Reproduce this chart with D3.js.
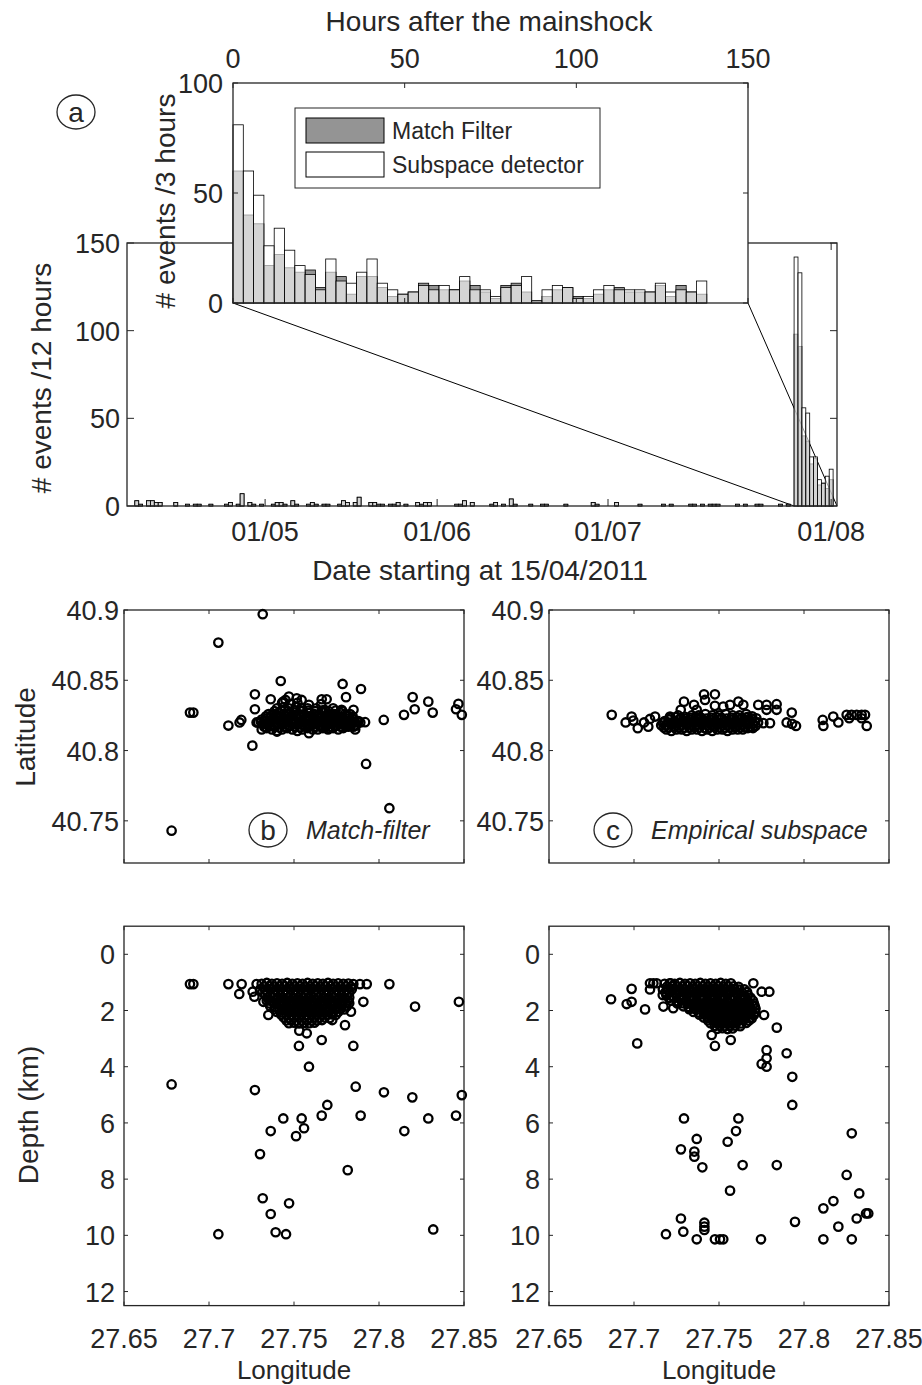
<!DOCTYPE html>
<html>
<head>
<meta charset="utf-8">
<script src="https://cdn.jsdelivr.net/npm/d3@7"></script>
<style>
  body { margin: 0; background: #fff; }
  svg text { font-family: "Liberation Sans", Arial, Helvetica, sans-serif; fill: #262626; }
</style>
</head>
<body>
<svg id="fig" width="922" height="1385"></svg>
<script>
// ---------------- data ----------------
// (a) whole period, 12-hour bins (index 0..181)
const mainSub = [
  0,0,3,1,0,3,3,2,2,0, 0,0,2,0,0,1,0,1,1,0, 0,1,0,0,0,1,2,0,1,7, 0,2,1,0,1,0,0,1,2,2,
  1,0,3,1,0,0,1,2,1,0, 1,1,0,0,1,3,2,0,2,5, 0,0,2,2,1,1,0,1,1,2, 0,1,0,0,2,1,2,2,0,0,
  0,0,0,0,1,1,3,0,2,0, 0,0,0,1,2,0,1,0,4,1, 0,0,0,1,0,0,1,1,0,0, 0,0,1,0,0,0,0,0,0,2,
  1,0,0,0,0,2,0,0,0,0, 0,1,0,0,0,0,0,1,0,1, 0,0,0,0,1,1,0,1,0,1, 1,1,0,0,0,0,1,0,1,0,
  0,1,1,0,0,0,0,1,0,1, 0,142,133,56,53,28,28,15,13,17, 21,0
];
const mainMatch = [
  0,0,3,1,0,3,3,2,2,0, 0,0,2,0,0,1,0,1,1,0, 0,1,0,0,0,1,2,0,1,7, 0,2,1,0,1,0,0,1,2,2,
  1,0,3,1,0,0,1,2,1,0, 1,1,0,0,1,3,2,0,2,5, 0,0,2,2,1,1,0,1,1,2, 0,1,0,0,2,1,2,2,0,0,
  0,0,0,0,1,1,3,0,2,0, 0,0,0,1,2,0,1,0,4,1, 0,0,0,1,0,0,1,1,0,0, 0,0,1,0,0,0,0,0,0,2,
  1,0,0,0,0,2,0,0,0,0, 0,1,0,0,0,0,0,1,0,1, 0,0,0,0,1,1,0,1,0,1, 1,1,0,0,0,0,1,0,1,0,
  0,1,1,0,0,0,0,1,0,1, 0,98,91,40,37,24,27,12,13,10, 15,0
];
const mainBinCount = 182;
const mainshockBin = 171;
const dateTickBins = [35.4, 79.5, 123.3, 180.5];
const dateTickLabels = ["01/05", "01/06", "01/07", "01/08"];
const countTicksMain = [0, 50, 100, 150];

// (a) inset, 3-hour bins after the mainshock
const insetSub = [81,60,49,26,34,24,17,13,6,20, 10,9,14,20,9,6,4,5,8,6, 8,6,12,6,6,3,7,8,12,1,
  6,8,7,2,3,6,8,6,6,6, 5,9,5,6,5,10];
const insetMatch = [60,40,36,17,22,16,14,15,7,14, 12,4,12,12,7,3,4,5,9,8, 6,6,10,8,5,2,8,9,5,1,
  3,6,7,3,2,4,6,7,5,5, 5,8,3,8,5,4];
const hourTicks = [0, 50, 100, 150];
const countTicksInset = [0, 50, 100];
const legendLabels = ["Match Filter", "Subspace detector"];

// (b)(c) axes
const lonTicks = [27.65, 27.7, 27.75, 27.8, 27.85];
const lonTickLabels = ["27.65", "27.7", "27.75", "27.8", "27.85"];
const latTicks = [40.75, 40.8, 40.85, 40.9];
const depthTicks = [0, 2, 4, 6, 8, 10, 12];

// (b) match-filter locations [lon, lat]
const mfMap = [
  [27.731,40.815],[27.734,40.816],[27.737,40.815],[27.740,40.814],[27.743,40.815],[27.746,40.816],[27.749,40.815],
  [27.752,40.814],[27.755,40.815],[27.758,40.816],[27.761,40.815],[27.764,40.815],[27.767,40.816],[27.770,40.815],
  [27.773,40.816],[27.776,40.815],[27.779,40.816],[27.782,40.817],[27.785,40.817],
  [27.7325,40.817],[27.7355,40.8175],[27.7385,40.817],[27.7415,40.8165],[27.7445,40.817],[27.7475,40.8175],[27.7505,40.817],
  [27.7535,40.8165],[27.7565,40.817],[27.7595,40.8175],[27.7625,40.817],[27.7655,40.817],[27.7685,40.8175],[27.7715,40.817],
  [27.7745,40.8175],[27.7775,40.817],[27.7805,40.8175],[27.7835,40.818],[27.7865,40.818],
  [27.729,40.820],[27.732,40.819],[27.735,40.819],[27.738,40.818],[27.741,40.819],[27.744,40.819],[27.747,40.818],
  [27.750,40.819],[27.753,40.819],[27.756,40.818],[27.759,40.819],[27.762,40.819],[27.765,40.818],[27.768,40.819],
  [27.771,40.819],[27.774,40.818],[27.777,40.819],[27.780,40.819],[27.783,40.820],[27.786,40.820],[27.789,40.820],
  [27.7305,40.8205],[27.7335,40.821],[27.7365,40.8205],[27.7395,40.820],[27.7425,40.8205],[27.7455,40.821],[27.7485,40.8205],
  [27.7515,40.820],[27.7545,40.8205],[27.7575,40.821],[27.7605,40.8205],[27.7635,40.820],[27.7665,40.8205],[27.7695,40.821],
  [27.7725,40.8205],[27.7755,40.820],[27.7785,40.8205],[27.7815,40.821],[27.7845,40.8205],[27.7875,40.8205],
  [27.731,40.822],[27.734,40.823],[27.737,40.822],[27.740,40.823],[27.743,40.822],[27.746,40.823],[27.749,40.822],
  [27.752,40.823],[27.755,40.822],[27.758,40.823],[27.761,40.822],[27.764,40.823],[27.767,40.822],[27.770,40.823],
  [27.773,40.822],[27.776,40.823],[27.779,40.822],[27.782,40.823],[27.785,40.822],[27.788,40.821],
  [27.7335,40.8243],[27.7365,40.8248],[27.7395,40.8243],[27.7425,40.8238],[27.7455,40.8243],[27.7485,40.8248],[27.7515,40.8243],
  [27.7545,40.8238],[27.7575,40.8243],[27.7605,40.8248],[27.7635,40.8243],[27.7665,40.8238],[27.7695,40.8243],[27.7725,40.8248],
  [27.7755,40.8243],[27.7785,40.8238],[27.7815,40.8243],[27.7845,40.8243],
  [27.735,40.826],[27.738,40.826],[27.741,40.827],[27.744,40.826],[27.747,40.826],[27.750,40.827],[27.753,40.826],
  [27.756,40.826],[27.759,40.827],[27.762,40.826],[27.765,40.826],[27.768,40.827],[27.771,40.826],[27.774,40.826],
  [27.777,40.827],[27.780,40.826],[27.783,40.826],
  [27.7385,40.828],[27.7425,40.8285],[27.7465,40.828],[27.7505,40.8285],[27.7545,40.828],[27.7585,40.8285],[27.7625,40.828],
  [27.7665,40.8285],[27.7705,40.828],[27.7745,40.8285],[27.7785,40.828],
  [27.740,40.830],[27.744,40.831],[27.747,40.830],[27.751,40.831],[27.754,40.830],[27.758,40.830],[27.763,40.830],
  [27.768,40.829],[27.773,40.830],[27.778,40.829],
  [27.743,40.834],[27.748,40.833],[27.752,40.834],[27.766,40.833],
  [27.7316,40.897],[27.7055,40.8768],[27.6888,40.827],[27.6908,40.827],[27.678,40.743],[27.7114,40.8178],
  [27.718,40.820],[27.719,40.8218],[27.7255,40.8035],[27.727,40.840],[27.727,40.8294],[27.7363,40.8365],
  [27.7422,40.8495],[27.745,40.836],[27.747,40.8384],[27.7516,40.8372],[27.7545,40.836],[27.7437,40.8348],
  [27.7588,40.8325],[27.7588,40.8123],[27.7663,40.8365],[27.7692,40.8365],[27.7786,40.8474],[27.7806,40.838],
  [27.7894,40.8438],[27.728,40.820],[27.7918,40.8202],[27.7924,40.7905],[27.8028,40.8218],[27.8061,40.759],
  [27.8147,40.8254],[27.8198,40.838],[27.821,40.8294],[27.829,40.8348],[27.8316,40.827],[27.8453,40.8294],
  [27.8467,40.8332],[27.8487,40.8254],[27.7859,40.8175],[27.786,40.815],[27.785,40.829],[27.7706,40.8159],
  [27.740,40.8135]
];
// (c) empirical subspace locations [lon, lat]
const esMap = [
  [27.719,40.815],[27.722,40.814],[27.725,40.815],[27.728,40.815],[27.731,40.814],[27.734,40.815],[27.737,40.815],
  [27.740,40.814],[27.743,40.815],[27.746,40.814],[27.749,40.815],[27.752,40.815],[27.755,40.814],[27.758,40.815],
  [27.761,40.815],[27.764,40.815],[27.767,40.816],[27.770,40.816],
  [27.7175,40.8165],[27.7205,40.8165],[27.7235,40.817],[27.7265,40.8165],[27.7295,40.816],[27.7325,40.8165],[27.7355,40.817],
  [27.7385,40.8165],[27.7415,40.816],[27.7445,40.8165],[27.7475,40.817],[27.7505,40.8165],[27.7535,40.816],[27.7565,40.8165],
  [27.7595,40.817],[27.7625,40.8165],[27.7655,40.8165],[27.7685,40.817],[27.7715,40.8175],
  [27.716,40.818],[27.719,40.818],[27.722,40.819],[27.725,40.818],[27.728,40.818],[27.731,40.819],[27.734,40.818],
  [27.737,40.818],[27.740,40.819],[27.743,40.818],[27.746,40.818],[27.749,40.819],[27.752,40.818],[27.755,40.818],
  [27.758,40.819],[27.761,40.818],[27.764,40.818],[27.767,40.819],[27.770,40.819],[27.773,40.820],
  [27.7170,40.8197],[27.7200,40.820],[27.7230,40.8195],[27.7260,40.8197],[27.7290,40.820],[27.7320,40.8195],[27.7350,40.8197],
  [27.7380,40.820],[27.7410,40.8195],[27.7440,40.8197],[27.7470,40.820],[27.7500,40.8195],[27.7530,40.8197],[27.7560,40.820],
  [27.7590,40.8195],[27.7620,40.8197],[27.7650,40.820],[27.7680,40.8195],[27.7710,40.8205],
  [27.718,40.821],[27.721,40.822],[27.724,40.821],[27.727,40.822],[27.730,40.821],[27.733,40.822],[27.736,40.821],
  [27.739,40.822],[27.742,40.821],[27.745,40.822],[27.748,40.821],[27.751,40.822],[27.754,40.821],[27.757,40.822],
  [27.760,40.821],[27.763,40.822],[27.766,40.822],[27.769,40.823],[27.772,40.823],
  [27.7215,40.8233],[27.7245,40.8238],[27.7275,40.8233],[27.7305,40.8228],[27.7335,40.8233],[27.7365,40.8238],[27.7395,40.8233],
  [27.7425,40.8228],[27.7455,40.8233],[27.7485,40.8238],[27.7515,40.8233],[27.7545,40.8228],[27.7575,40.8233],[27.7605,40.8238],
  [27.7635,40.8233],[27.7665,40.8238],[27.7695,40.8243],
  [27.726,40.825],[27.730,40.824],[27.734,40.825],[27.738,40.825],[27.742,40.826],[27.746,40.825],[27.750,40.825],
  [27.754,40.826],[27.758,40.825],[27.762,40.825],[27.766,40.826],
  [27.6869,40.8254],[27.6951,40.820],[27.6986,40.8242],[27.6996,40.8213],[27.7022,40.8159],[27.7059,40.820],
  [27.7094,40.8225],[27.7124,40.8242],[27.7084,40.817],[27.7212,40.8242],[27.7275,40.829],[27.7294,40.8348],
  [27.7353,40.8325],[27.7369,40.829],[27.7412,40.840],[27.7476,40.840],[27.7418,40.836],[27.7476,40.8318],
  [27.7525,40.8313],[27.7565,40.8325],[27.7614,40.8348],[27.7643,40.8325],[27.7731,40.8325],[27.778,40.8325],
  [27.7839,40.833],[27.778,40.829],[27.7839,40.829],[27.7761,40.8195],[27.780,40.8195],[27.7898,40.820],
  [27.7928,40.827],[27.7953,40.8175],[27.793,40.819],[27.811,40.8218],[27.8114,40.8175],[27.8172,40.8242],
  [27.8202,40.820],[27.8251,40.8254],[27.828,40.8254],[27.831,40.8254],[27.8339,40.8254],[27.8359,40.8254],
  [27.8266,40.823],[27.8339,40.823],[27.8369,40.8175]
];
// (b) match-filter depth section [lon, depth km]
const mfDepth = [
  [27.731,1.05],[27.734,1.02],[27.737,1.05],[27.740,1.03],[27.743,1.05],[27.746,1.02],[27.749,1.05],[27.752,1.03],
  [27.755,1.05],[27.758,1.02],[27.761,1.05],[27.764,1.03],[27.767,1.05],[27.770,1.02],[27.773,1.05],[27.776,1.03],
  [27.779,1.05],[27.782,1.04],
  [27.7325,1.15],[27.7355,1.14],[27.7385,1.16],[27.7415,1.15],[27.7445,1.14],[27.7475,1.16],[27.7505,1.15],[27.7535,1.14],
  [27.7565,1.16],[27.7595,1.15],[27.7625,1.14],[27.7655,1.16],[27.7685,1.15],[27.7715,1.14],[27.7745,1.16],[27.7775,1.15],
  [27.7805,1.14],[27.7835,1.16],
  [27.730,1.25],[27.733,1.27],[27.736,1.24],[27.739,1.26],[27.742,1.25],[27.745,1.27],[27.748,1.24],[27.751,1.26],
  [27.754,1.25],[27.757,1.27],[27.760,1.24],[27.763,1.26],[27.766,1.25],[27.769,1.27],[27.772,1.24],[27.775,1.26],
  [27.778,1.25],[27.781,1.27],[27.784,1.24],
  [27.7315,1.35],[27.7345,1.34],[27.7375,1.36],[27.7405,1.35],[27.7435,1.34],[27.7465,1.36],[27.7495,1.35],[27.7525,1.34],
  [27.7555,1.36],[27.7585,1.35],[27.7615,1.34],[27.7645,1.36],[27.7675,1.35],[27.7705,1.34],[27.7735,1.36],[27.7765,1.35],
  [27.7795,1.34],[27.7825,1.36],
  [27.733,1.45],[27.736,1.47],[27.739,1.44],[27.742,1.46],[27.745,1.45],[27.748,1.47],[27.751,1.44],[27.754,1.46],
  [27.757,1.45],[27.760,1.47],[27.763,1.44],[27.766,1.46],[27.769,1.45],[27.772,1.47],[27.775,1.44],[27.778,1.46],
  [27.781,1.45],
  [27.7345,1.55],[27.7375,1.54],[27.7405,1.56],[27.7435,1.55],[27.7465,1.54],[27.7495,1.56],[27.7525,1.55],[27.7555,1.54],
  [27.7585,1.56],[27.7615,1.55],[27.7645,1.54],[27.7675,1.56],[27.7705,1.55],[27.7735,1.54],[27.7765,1.56],[27.7795,1.55],
  [27.7825,1.54],
  [27.734,1.65],[27.737,1.67],[27.740,1.64],[27.743,1.66],[27.746,1.65],[27.749,1.67],[27.752,1.64],[27.755,1.66],
  [27.758,1.65],[27.761,1.67],[27.764,1.64],[27.767,1.66],[27.770,1.65],[27.773,1.67],[27.776,1.64],[27.779,1.66],
  [27.782,1.65],
  [27.7355,1.75],[27.7385,1.74],[27.7415,1.76],[27.7445,1.75],[27.7475,1.74],[27.7505,1.76],[27.7535,1.75],[27.7565,1.74],
  [27.7595,1.76],[27.7625,1.75],[27.7655,1.74],[27.7685,1.76],[27.7715,1.75],[27.7745,1.74],[27.7775,1.76],[27.7805,1.75],
  [27.7825,1.74],
  [27.736,1.85],[27.739,1.87],[27.742,1.84],[27.745,1.86],[27.748,1.85],[27.751,1.87],[27.754,1.84],[27.757,1.86],
  [27.760,1.85],[27.763,1.87],[27.766,1.84],[27.769,1.86],[27.772,1.85],[27.775,1.87],[27.778,1.84],[27.781,1.86],
  [27.7385,1.95],[27.7415,1.94],[27.7445,1.96],[27.7475,1.95],[27.7505,1.94],[27.7535,1.96],[27.7565,1.95],[27.7595,1.94],
  [27.7625,1.96],[27.7655,1.95],[27.7685,1.94],[27.7715,1.96],[27.7745,1.95],[27.7775,1.94],[27.7795,1.96],
  [27.740,2.05],[27.743,2.07],[27.746,2.04],[27.749,2.06],[27.752,2.05],[27.755,2.07],[27.758,2.04],[27.761,2.06],
  [27.764,2.05],[27.767,2.07],[27.770,2.04],[27.773,2.06],[27.776,2.05],
  [27.7425,2.15],[27.7455,2.14],[27.7485,2.16],[27.7515,2.15],[27.7545,2.14],[27.7575,2.16],[27.7605,2.15],[27.7635,2.14],
  [27.7665,2.16],[27.7695,2.15],[27.7725,2.14],[27.7745,2.16],
  [27.744,2.25],[27.747,2.27],[27.750,2.24],[27.753,2.26],[27.756,2.25],[27.759,2.27],[27.762,2.24],[27.765,2.26],
  [27.768,2.25],[27.771,2.27],
  [27.7455,2.35],[27.7485,2.34],[27.7515,2.36],[27.7545,2.35],[27.7575,2.34],[27.7605,2.36],[27.7635,2.35],[27.7665,2.34],
  [27.747,2.45],[27.750,2.43],[27.753,2.46],[27.756,2.44],[27.759,2.45],[27.762,2.43],
  [27.6888,1.06],[27.6908,1.06],[27.7114,1.06],[27.7192,1.06],[27.728,1.06],[27.7178,1.41],[27.7257,1.33],
  [27.7267,1.51],[27.732,1.69],[27.7349,2.16],[27.7531,2.72],[27.7575,2.81],[27.7529,3.26],[27.7663,3.05],
  [27.7849,3.26],[27.7588,4.0],[27.678,4.63],[27.727,4.83],[27.7863,4.71],[27.8029,4.91],[27.8196,5.09],
  [27.8487,5.01],[27.7696,5.36],[27.847,1.69],[27.8212,1.86],[27.8061,1.06],[27.7908,1.69],[27.7928,1.06],
  [27.7888,1.06],[27.7849,1.06],[27.7725,2.34],[27.780,2.52],[27.7835,2.04],
  [27.7437,5.84],[27.7545,5.84],[27.7663,5.74],[27.7892,5.74],[27.829,5.84],[27.8453,5.74],[27.7363,6.29],
  [27.7512,6.47],[27.7559,6.19],[27.8149,6.29],[27.730,7.11],[27.7816,7.68],[27.7316,8.68],[27.7471,8.86],
  [27.7363,9.24],[27.8319,9.79],[27.7055,9.96],[27.7392,9.89],[27.7453,9.96]
];
// (c) empirical subspace depth section [lon, depth km]
const esDepth = [
  [27.718,1.05],[27.721,1.03],[27.724,1.05],[27.727,1.02],[27.730,1.05],[27.733,1.03],[27.736,1.05],[27.739,1.02],
  [27.742,1.05],[27.745,1.03],[27.748,1.05],[27.751,1.02],[27.754,1.05],[27.757,1.03],
  [27.7195,1.15],[27.7225,1.14],[27.7255,1.16],[27.7285,1.15],[27.7315,1.14],[27.7345,1.16],[27.7375,1.15],[27.7405,1.14],
  [27.7435,1.16],[27.7465,1.15],[27.7495,1.14],[27.7525,1.16],[27.7555,1.15],[27.7585,1.14],[27.7615,1.16],
  [27.717,1.25],[27.720,1.27],[27.723,1.24],[27.726,1.26],[27.729,1.25],[27.732,1.27],[27.735,1.24],[27.738,1.26],
  [27.741,1.25],[27.744,1.27],[27.747,1.24],[27.750,1.26],[27.753,1.25],[27.756,1.27],[27.759,1.24],[27.762,1.26],
  [27.765,1.25],
  [27.7185,1.35],[27.7215,1.34],[27.7245,1.36],[27.7275,1.35],[27.7305,1.34],[27.7335,1.36],[27.7365,1.35],[27.7395,1.34],
  [27.7425,1.36],[27.7455,1.35],[27.7485,1.34],[27.7515,1.36],[27.7545,1.35],[27.7575,1.34],[27.7605,1.36],[27.7635,1.35],
  [27.7665,1.34],
  [27.719,1.45],[27.722,1.47],[27.725,1.44],[27.728,1.46],[27.731,1.45],[27.734,1.47],[27.737,1.44],[27.740,1.46],
  [27.743,1.45],[27.746,1.47],[27.749,1.44],[27.752,1.46],[27.755,1.45],[27.758,1.47],[27.761,1.44],[27.764,1.46],
  [27.767,1.45],
  [27.7205,1.55],[27.7235,1.54],[27.7265,1.56],[27.7295,1.55],[27.7325,1.54],[27.7355,1.56],[27.7385,1.55],[27.7415,1.54],
  [27.7445,1.56],[27.7475,1.55],[27.7505,1.54],[27.7535,1.56],[27.7565,1.55],[27.7595,1.54],[27.7625,1.56],[27.7655,1.55],
  [27.7685,1.54],
  [27.722,1.65],[27.725,1.67],[27.728,1.64],[27.731,1.66],[27.734,1.65],[27.737,1.67],[27.740,1.64],[27.743,1.66],
  [27.746,1.65],[27.749,1.67],[27.752,1.64],[27.755,1.66],[27.758,1.65],[27.761,1.67],[27.764,1.64],[27.767,1.66],
  [27.770,1.65],
  [27.7255,1.75],[27.7285,1.74],[27.7315,1.76],[27.7345,1.75],[27.7375,1.74],[27.7405,1.76],[27.7435,1.75],[27.7465,1.74],
  [27.7495,1.76],[27.7525,1.75],[27.7555,1.74],[27.7585,1.76],[27.7615,1.75],[27.7645,1.74],[27.7675,1.76],[27.7705,1.75],
  [27.729,1.85],[27.732,1.87],[27.735,1.84],[27.738,1.86],[27.741,1.85],[27.744,1.87],[27.747,1.84],[27.750,1.86],
  [27.753,1.85],[27.756,1.87],[27.759,1.84],[27.762,1.86],[27.765,1.85],[27.768,1.87],[27.771,1.84],
  [27.7325,1.95],[27.7355,1.94],[27.7385,1.96],[27.7415,1.95],[27.7445,1.94],[27.7475,1.96],[27.7505,1.95],[27.7535,1.94],
  [27.7565,1.96],[27.7595,1.95],[27.7625,1.94],[27.7655,1.96],[27.7685,1.95],[27.7715,1.94],
  [27.735,2.05],[27.738,2.07],[27.741,2.04],[27.744,2.06],[27.747,2.05],[27.750,2.07],[27.753,2.04],[27.756,2.06],
  [27.759,2.05],[27.762,2.07],[27.765,2.04],[27.768,2.06],[27.771,2.05],
  [27.7385,2.15],[27.7415,2.14],[27.7445,2.16],[27.7475,2.15],[27.7505,2.14],[27.7535,2.16],[27.7565,2.15],[27.7595,2.14],
  [27.7625,2.16],[27.7655,2.15],[27.7685,2.14],[27.7705,2.16],
  [27.741,2.25],[27.744,2.27],[27.747,2.24],[27.750,2.26],[27.753,2.25],[27.756,2.27],[27.759,2.24],[27.762,2.26],
  [27.765,2.25],[27.768,2.27],
  [27.7435,2.35],[27.7465,2.34],[27.7495,2.36],[27.7525,2.35],[27.7555,2.34],[27.7585,2.36],[27.7615,2.35],[27.7645,2.34],
  [27.7675,2.36],
  [27.745,2.45],[27.748,2.43],[27.751,2.46],[27.754,2.44],[27.757,2.45],[27.760,2.43],[27.763,2.46],[27.766,2.44],
  [27.7475,2.55],[27.7505,2.54],[27.7535,2.56],[27.7565,2.55],[27.7595,2.54],[27.7625,2.56],
  [27.749,2.65],[27.752,2.63],[27.755,2.66],[27.758,2.64],
  [27.6865,1.60],[27.6957,1.77],[27.6986,1.69],[27.6986,1.23],[27.7065,1.96],[27.7019,3.17],[27.7094,1.03],
  [27.7114,1.03],[27.7134,1.03],[27.7094,1.25],[27.7169,1.45],[27.7173,1.86],[27.7231,1.92],[27.7216,1.03],
  [27.7702,1.03],[27.7751,1.33],[27.7796,1.33],[27.7765,2.16],[27.784,2.61],[27.7692,2.28],[27.7457,2.87],
  [27.7476,3.26],[27.7569,3.05],[27.778,3.41],[27.778,3.70],[27.7751,3.90],[27.778,4.0],[27.7898,3.52],
  [27.7931,4.36],[27.7931,5.36],
  [27.7294,5.84],[27.7614,5.84],[27.7369,6.57],[27.760,6.29],[27.7551,6.67],[27.8281,6.37],[27.7276,6.94],
  [27.7355,7.02],[27.7355,7.20],[27.7402,7.58],[27.7639,7.50],[27.784,7.50],[27.8251,7.85],[27.7565,8.41],
  [27.8325,8.51],[27.8173,8.78],[27.8114,9.04],[27.8365,9.22],[27.8378,9.22],[27.831,9.40],[27.7276,9.40],
  [27.7947,9.52],[27.7414,9.55],[27.7414,9.69],[27.7414,9.81],[27.8202,9.69],[27.729,9.87],[27.7188,9.96],
  [27.7369,10.14],[27.7476,10.14],[27.7506,10.14],[27.7525,10.14],[27.7747,10.14],[27.8114,10.14],[27.8281,10.14]
];

// ---------------- drawing ----------------
const svg = d3.select("#fig");
const INK = "#262626";
const FS = 28;     // axis label size
const FT = 27;     // tick label size

function txt(g, x, y, s, size, anchor, rot, italic) {
  const t = g.append("text")
    .attr("transform", "translate(" + x + "," + y + ")" + (rot ? " rotate(" + rot + ")" : ""))
    .attr("text-anchor", anchor || "middle")
    .attr("font-size", size)
    .text(s);
  if (italic) t.attr("font-style", "italic");
  return t;
}

// box with inward ticks on all four sides
function boxAxes(g, x, y, xt, yt, len) {
  const [x0, x1] = x.range(), [y0, y1] = y.range();
  xt.forEach(v => {
    g.append("line").attr("x1", x(v)).attr("x2", x(v)).attr("y1", y0).attr("y2", y0 - len).attr("stroke", INK);
    g.append("line").attr("x1", x(v)).attr("x2", x(v)).attr("y1", y1).attr("y2", y1 + len).attr("stroke", INK);
  });
  yt.forEach(v => {
    g.append("line").attr("x1", x0).attr("x2", x0 + len).attr("y1", y(v)).attr("y2", y(v)).attr("stroke", INK);
    g.append("line").attr("x1", x1).attr("x2", x1 - len).attr("y1", y(v)).attr("y2", y(v)).attr("stroke", INK);
  });
  g.append("rect").attr("x", x0).attr("y", y1).attr("width", x1 - x0).attr("height", y0 - y1)
    .attr("fill", "none").attr("stroke", INK).attr("stroke-width", 1.3);
}

function bars(g, vals, x, y, binW, fill, op, sw) {
  g.selectAll(null).data(vals.map((v, i) => ({ i, v })).filter(d => d.v > 0)).join("rect")
    .attr("x", d => x(d.i * binW)).attr("width", d => x((d.i + 1) * binW) - x(d.i * binW))
    .attr("y", d => y(d.v)).attr("height", d => y(0) - y(d.v))
    .attr("fill", fill).attr("fill-opacity", op)
    .attr("stroke", "#000").attr("stroke-width", sw);
}

// ----- (a) main histogram -----
const xMain = d3.scaleLinear().domain([0, mainBinCount]).range([127, 837]);
const yMain = d3.scaleLinear().domain([0, 150]).range([506, 243]);
const gA = svg.append("g");

// inset axes position (needed for the zoom lines)
const xIn = d3.scaleLinear().domain([0, 150]).range([233, 748]);
const yIn = d3.scaleLinear().domain([0, 100]).range([303, 83]);

gA.append("line").attr("x1", xIn(0)).attr("y1", yIn(0)).attr("x2", xMain(mainshockBin)).attr("y2", yMain(0))
  .attr("stroke", "#000").attr("stroke-width", 1);
gA.append("line").attr("x1", xIn(150)).attr("y1", yIn(0)).attr("x2", xMain(mainBinCount)).attr("y2", yMain(0))
  .attr("stroke", "#000").attr("stroke-width", 1);

bars(gA, mainMatch, xMain, yMain, 1, "#4d4d4d", 0.6, 0.8);
bars(gA, mainSub, xMain, yMain, 1, "#ffffff", 0.6, 0.8);
boxAxes(gA, xMain, yMain, dateTickBins, countTicksMain, 7);

countTicksMain.forEach(v => txt(gA, 120, yMain(v) + 10, String(v), FT, "end"));
dateTickBins.forEach((b, i) => txt(gA, xMain(b), 541, dateTickLabels[i], FT));
txt(gA, 480, 580, "Date starting at 15/04/2011", FS);
txt(gA, 51, 378, "# events /12 hours", FS, "middle", -90);

// ----- (a) inset -----
const gI = svg.append("g");
gI.append("rect").attr("x", 233).attr("y", 83).attr("width", 515).attr("height", 220).attr("fill", "#fff");
bars(gI, insetMatch, xIn, yIn, 3, "#4d4d4d", 0.6, 0.8);
bars(gI, insetSub, xIn, yIn, 3, "#ffffff", 0.6, 0.8);
boxAxes(gI, xIn, yIn, hourTicks, countTicksInset, 5);
hourTicks.forEach(v => txt(gI, xIn(v), 68, String(v), FT));
countTicksInset.forEach(v => txt(gI, 223, yIn(v) + 10, String(v), FT, "end"));
txt(gI, 489, 31, "Hours after the mainshock", FS);
txt(gI, 175, 201, "# events /3 hours", FS, "middle", -90);

// legend
const lg = gI.append("g");
lg.append("rect").attr("x", 295).attr("y", 108).attr("width", 305).attr("height", 80)
  .attr("fill", "#fff").attr("stroke", INK).attr("stroke-width", 1);
legendLabels.forEach((s, i) => {
  lg.append("rect").attr("x", 306).attr("y", 118 + i * 34).attr("width", 78).attr("height", 25)
    .attr("fill", i === 0 ? "#4d4d4d" : "#fff").attr("fill-opacity", i === 0 ? 0.6 : 1)
    .attr("stroke", "#000").attr("stroke-width", 1);
  txt(lg, 392, 139 + i * 34, s, 23, "start");
});

// panel letter (a)
svg.append("ellipse").attr("cx", 76).attr("cy", 112).attr("rx", 19).attr("ry", 17)
  .attr("fill", "none").attr("stroke", INK).attr("stroke-width", 1.3);
txt(svg, 76, 122, "a", FS);

// ----- (b)(c) scatter panels -----
const yLat = d3.scaleLinear().domain([40.72, 40.9]).range([863, 610]);
const yDep = d3.scaleLinear().domain([12.5, -1]).range([1305.6, 926.2]);

function panel(left, mapPts, depPts, letter, letterX, name, showLabels) {
  const xLon = d3.scaleLinear().domain([27.65, 27.85]).range([left, left + 340]);
  const gm = svg.append("g");
  boxAxes(gm, xLon, yLat, lonTicks, latTicks, 4);
  gm.selectAll(null).data(mapPts).join("circle")
    .attr("cx", d => xLon(d[0])).attr("cy", d => yLat(d[1])).attr("r", 4.2)
    .attr("fill", "none").attr("stroke", "#000").attr("stroke-width", 2.3);
  latTicks.forEach(v => txt(gm, left - 5, yLat(v) + 10, String(v), FT, "end"));
  gm.append("ellipse").attr("cx", letterX).attr("cy", 830).attr("rx", 19).attr("ry", 17)
    .attr("fill", "none").attr("stroke", INK).attr("stroke-width", 1.3);
  txt(gm, letterX, 840, letter, FS);
  txt(gm, letterX + 38, 839, name, 25, "start", 0, true);

  const gd = svg.append("g");
  boxAxes(gd, xLon, yDep, lonTicks, depthTicks, 4);
  gd.selectAll(null).data(depPts).join("circle")
    .attr("cx", d => xLon(d[0])).attr("cy", d => yDep(d[1])).attr("r", 4.2)
    .attr("fill", "none").attr("stroke", "#000").attr("stroke-width", 2.3);
  depthTicks.forEach(v => txt(gd, left - 9, yDep(v) + 10, String(v), FT, "end"));
  lonTicks.forEach((v, i) => txt(gd, xLon(v), 1348, lonTickLabels[i], FT));
  txt(gd, left + 170, 1379, "Longitude", 26);
  if (showLabels) {
    txt(svg, 35, 737, "Latitude", FS, "middle", -90);
    txt(svg, 38, 1115, "Depth (km)", FS, "middle", -90);
  }
}
panel(124, mfMap, mfDepth, "b", 268, "Match-filter", true);
panel(549, esMap, esDepth, "c", 613, "Empirical subspace", false);
</script>
</body>
</html>
